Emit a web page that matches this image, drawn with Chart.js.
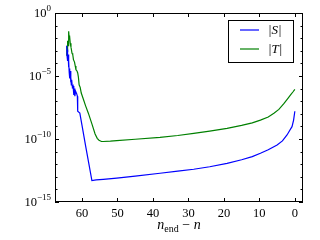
<!DOCTYPE html>
<html><head><meta charset="utf-8">
<script src="https://cdn.jsdelivr.net/npm/chart.js@4.4.1/dist/chart.umd.min.js"></script>
<style>html,body{margin:0;padding:0;background:#fff}canvas{display:block}</style>
</head><body>
<canvas id="c" width="320" height="240"></canvas>
<script>
// |S| : x = n_end - n, value stored as log10
const sX = [64.3,64.2,64.1,64.0,63.9,63.8,63.7,63.6,63.5,63.4,63.3,63.2,63.1,63.0,62.9,62.7,62.5,62.3,62.2,62.0,61.8,61.5,61.3,61.2,60.6,60.0,59.0,58.0,57.2,56,54,50.2,45,38,33,28.5,24,19.1,15,12,9.7,7.5,5,3.5,2.2,1.5,0.8,0.35,0];
const sLog10 = [-2.6,-3.4,-2.9,-3.8,-3.3,-4.3,-3.8,-4.7,-4.4,-5.2,-4.6,-5.5,-5.1,-5.7,-5.3,-5.9,-5.8,-6.5,-6.0,-6.6,-6.2,-6.4,-6.6,-7.8,-7.95,-8.9,-10.5,-12.05,-13.3,-13.25,-13.2,-13.1,-12.95,-12.72,-12.55,-12.4,-12.2,-11.93,-11.65,-11.4,-11.13,-10.85,-10.48,-10.15,-9.68,-9.35,-9.02,-8.5,-7.8];
// |T|
const tX = [64.3,64.2,64.1,64.0,63.9,63.8,63.7,63.6,63.5,63.3,63.1,62.8,62.6,62.4,62.1,61.9,61.7,61.4,61.2,61.0,60.8,60.5,60.2,59.6,59.0,58.2,57.2,56.3,55.7,55.2,54.5,54.0,52,50.2,45,38,33,28.5,24,19.1,15,12,9.7,7.5,5.9,4.5,3.1,2,1.2,0.5,0];
const tLog10 = [-3.4,-2.6,-3.1,-2.2,-2.6,-1.6,-1.45,-2.0,-1.8,-2.4,-2.7,-3.2,-3.3,-3.7,-3.9,-4.2,-4.5,-4.6,-4.76,-5.1,-5.7,-5.9,-6.35,-6.85,-7.35,-7.95,-8.8,-9.6,-9.95,-10.1,-10.2,-10.2,-10.17,-10.13,-10.02,-9.87,-9.72,-9.55,-9.37,-9.15,-8.92,-8.72,-8.5,-8.25,-7.96,-7.65,-7.2,-6.8,-6.5,-6.25,-6.06];
const xTicks = [0,10,20,30,40,50,60];
const yDecades = [0,-1,-2,-3,-4,-5,-6,-7,-8,-9,-10,-11,-12,-13,-14,-15];
const yLabelled = [0,-5,-10,-15];
const seriesLabels = ['|S|','|T|'];
const seriesColors = ['#0000ff','#008000'];

const toPts = (xs, ls) => xs.map((x,i)=>({x:x, y:Math.pow(10, ls[i])}));
const SERIF = '"Liberation Serif", "DejaVu Serif", serif';

const decor = {
  id:'decor',
  afterDraw(chart){
    const ctx = chart.ctx, a = chart.chartArea;
    const xs = chart.scales.x, ys = chart.scales.y;
    ctx.save();
    // frame
    ctx.strokeStyle = '#000'; ctx.lineWidth = 1;
    ctx.strokeRect(Math.round(a.left)+0.5, Math.round(a.top)+0.5, Math.round(a.right-a.left)-1, Math.round(a.bottom-a.top)-1);
    // x ticks (inward, top and bottom)
    ctx.beginPath();
    xTicks.forEach(v=>{
      const px = Math.round(xs.getPixelForValue(v))+0.5;
      ctx.moveTo(px, a.bottom); ctx.lineTo(px, a.bottom-4);
      ctx.moveTo(px, a.top); ctx.lineTo(px, a.top+4);
    });
    // y ticks
    yDecades.forEach(e=>{
      const py = Math.round(ys.getPixelForValue(Math.pow(10,e)))+0.5;
      const len = yLabelled.includes(e) ? 4 : 2.5;
      ctx.moveTo(a.left, py); ctx.lineTo(a.left+len, py);
      ctx.moveTo(a.right, py); ctx.lineTo(a.right-len, py);
    });
    ctx.stroke();
    // y labels 10^e
    ctx.fillStyle = '#000';
    ctx.textBaseline = 'middle';
    yLabelled.forEach(e=>{
      const py = ys.getPixelForValue(Math.pow(10,e));
      const ex = e===0 ? '0' : '\u2212' + String(-e);
      ctx.font = '9px ' + SERIF;
      const ew = ctx.measureText(ex).width;
      ctx.textAlign = 'right';
      ctx.fillText(ex, 51, py-4);
      ctx.font = '12.5px ' + SERIF;
      ctx.fillText('10', 51-ew, py+1);
    });
    // x title: n_end − n
    ctx.textBaseline = 'alphabetic';
    ctx.textAlign = 'left';
    const parts = [
      {t:'n', f:'italic 14px '+SERIF, dy:0},
      {t:'end', f:'10px '+SERIF, dy:3},
      {t:' \u2212 ', f:'14px '+SERIF, dy:0},
      {t:'n', f:'italic 14px '+SERIF, dy:0}
    ];
    let tw = 0;
    parts.forEach(p=>{ctx.font=p.f; p.w=ctx.measureText(p.t).width; tw+=p.w;});
    let cx = (a.left+a.right)/2 - tw/2;
    const by = 229;
    parts.forEach(p=>{ctx.font=p.f; ctx.fillText(p.t, cx, by+p.dy); cx+=p.w;});
    // legend
    const lx = 228, ly = 20, lw = 65, lh = 42;
    ctx.fillStyle = '#fff';
    ctx.fillRect(lx, ly, lw, lh);
    ctx.strokeStyle = '#000'; ctx.lineWidth = 1;
    ctx.strokeRect(lx+0.5, ly+0.5, lw, lh);
    chart.data.datasets.forEach((ds,i)=>{
      const yy = 30 + i*19;
      ctx.strokeStyle = ds.borderColor; ctx.lineWidth = 1.2;
      ctx.beginPath(); ctx.moveTo(240, yy); ctx.lineTo(259, yy); ctx.stroke();
      ctx.fillStyle = '#000';
      ctx.font = 'italic 13px ' + SERIF;
      ctx.textBaseline = 'middle'; ctx.textAlign = 'left';
      ctx.fillText(ds.label, 268, yy+1);
    });
    ctx.restore();
  }
};

new Chart(document.getElementById('c'), {
  type:'line',
  data:{datasets:[
    {label:seriesLabels[0], data:toPts(sX,sLog10), borderColor:seriesColors[0], borderWidth:1.2, pointRadius:0, tension:0, fill:false},
    {label:seriesLabels[1], data:toPts(tX,tLog10), borderColor:seriesColors[1], borderWidth:1.2, pointRadius:0, tension:0, fill:false}
  ]},
  options:{
    responsive:false, animation:false, devicePixelRatio:1,
    layout:{padding:{top:13, right:17, left:0, bottom:0}},
    plugins:{legend:{display:false}, tooltip:{enabled:false}},
    scales:{
      x:{type:'linear', reverse:true, min:-2.3, max:67.6,
         grid:{display:false, drawTicks:false}, border:{display:false},
         afterBuildTicks:s=>{s.ticks = xTicks.map(v=>({value:v}));},
         afterFit:s=>{s.height = 38;},
         ticks:{color:'#000', padding:4, maxRotation:0, autoSkip:false, font:{family:SERIF, size:12.5}}},
      y:{type:'logarithmic', min:1e-15, max:1,
         grid:{display:false, drawTicks:false}, border:{display:false},
         afterBuildTicks:s=>{s.ticks = yDecades.map(e=>({value:Math.pow(10,e)}));},
         afterFit:s=>{s.width = 55;},
         ticks:{display:false}}
    }
  },
  plugins:[decor]
});
</script>
</body></html>
